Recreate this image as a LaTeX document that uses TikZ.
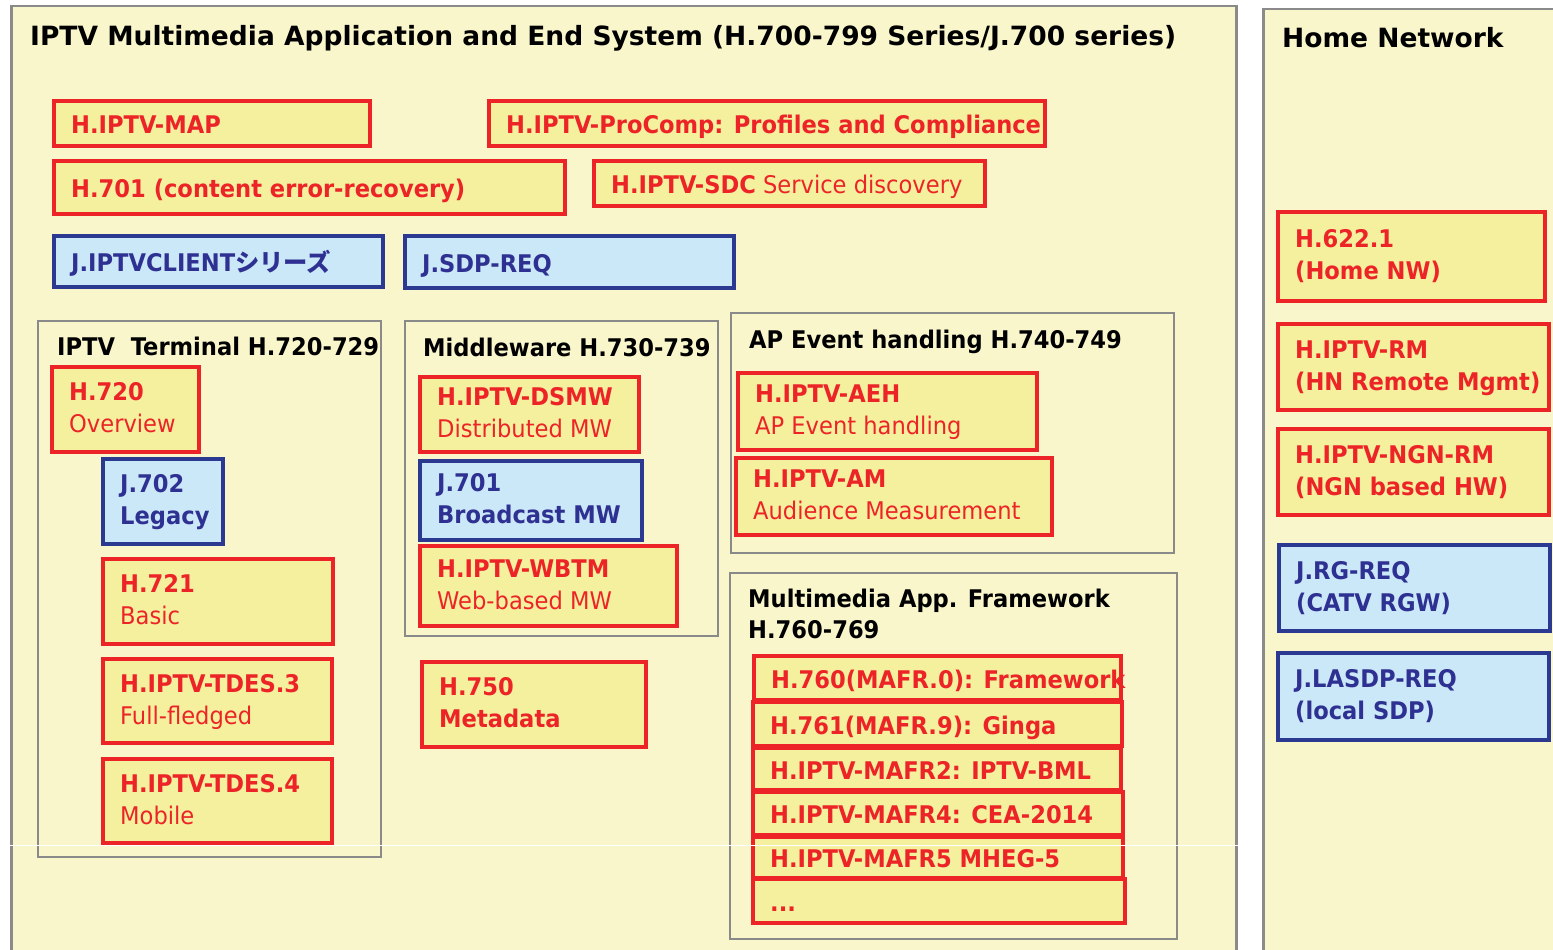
\documentclass[tikz,border=0pt]{standalone}
\usepackage{fontspec}
\setmainfont{DejaVu Sans}[FakeStretch=0.93]
\newfontfamily\titlefont{DejaVu Sans}
\newfontfamily\cjk{Noto Sans CJK JP}
\definecolor{panelbg}{HTML}{FAF6CC}
\definecolor{panelgray}{HTML}{8A8A8A}
\definecolor{redc}{HTML}{EC2427}
\definecolor{yellowf}{HTML}{F4F09E}
\definecolor{bluec}{HTML}{2B3990}
\definecolor{bluef}{HTML}{CBE8F8}
\definecolor{bluet}{HTML}{2E3192}
\tikzset{
  panel/.style={draw=panelgray, line width=2.5pt, fill=panelbg},
  grp/.style={draw=panelgray, line width=2pt},
  rbox/.style={draw=redc, line width=3.5pt, fill=yellowf},
  bbox/.style={draw=bluec, line width=3.5pt, fill=bluef},
  rboxtxt/.style={text=redc, inner sep=0pt},
  bboxtxt/.style={text=bluet, inner sep=0pt},
  ttl/.style={font=\titlefont\fontsize{26.5}{32}\selectfont\bfseries, anchor=base west, inner sep=0pt},
  gttl/.style={font=\fontsize{24.3}{31}\selectfont\bfseries, anchor=base west, inner sep=0pt},
  every node/.append style={font=\fontsize{24.3}{32}\selectfont}
}
\newcommand\lines[1]{\begin{tabular}[t]{@{}l@{}}#1\end{tabular}}
% style, x1, y1, x2, y2, name, text, number of lines
\newcommand\bx[8]{%
  \node[#1, anchor=north west, minimum width={#4-#2}, minimum height={#5-#3}, inner sep=0pt] (#6) at (#2,#3) {};
  \pgfmathsetmacro\bl{#3+((#5-#3)-18-32*(#8-1))/2+18+3*(2-#8)}%
  \node[#1txt, anchor=base west] (#6-t) at (#2+19,\bl) {\lines{#7}};}
\begin{document}
\begin{tikzpicture}[x=1pt,y=-1pt]
\useasboundingbox (0,0) rectangle (1553,950);
\fill[white] (0,0) rectangle (1553,950);
% panels
\node[panel, anchor=north west, minimum width=1225, minimum height=980, inner sep=0pt] (left) at (10,5) {};
\node[panel, anchor=north west, minimum width=320, minimum height=980, inner sep=0pt] (right) at (1262,8) {};
\node[ttl] (lt) at (30,46) {IPTV Multimedia Application and End System (H.700-799 Series/J.700 series)};
\node[ttl] (rt) at (1282,48) {Home Network};
% top boxes
\bx{rbox}{52}{99}{368}{144}{map}{\textbf{H.IPTV-MAP}}{1}
\bx{rbox}{487}{99}{1043}{144}{procomp}{\textbf{H.IPTV-ProComp: Profiles and Compliance}}{1}
\bx{rbox}{52}{159}{563}{212}{h701}{\textbf{H.701 (content error-recovery)}}{1}
\bx{rbox}{592}{159}{983}{204}{sdc}{\textbf{H.IPTV-SDC} Service discovery}{1}
\bx{bbox}{52}{234}{381}{285}{client}{\textbf{J.IPTVCLIENT{\cjk\bfseries シリーズ}}}{1}
\bx{bbox}{403}{234}{732}{286}{sdpreq}{\textbf{J.SDP-REQ}}{1}
% groups
\node[grp, anchor=north west, minimum width=343, minimum height=536, inner sep=0pt] (term) at (37,320) {};
\node[gttl] (term-t) at (57,355) {IPTV\ \ Terminal H.720-729};
\node[grp, anchor=north west, minimum width=313, minimum height=315, inner sep=0pt] (mw) at (404,320) {};
\node[gttl] (mw-t) at (423,356) {Middleware H.730-739};
\node[grp, anchor=north west, minimum width=443, minimum height=240, inner sep=0pt] (ap) at (730,312) {};
\node[gttl] (ap-t) at (749,348) {AP Event handling H.740-749};
\node[grp, anchor=north west, minimum width=447, minimum height=366, inner sep=0pt] (maf) at (729,572) {};
\node[gttl] (maf-t) at (748,607) {\lines{Multimedia App. Framework\\H.760-769}};
% terminal
\bx{rbox}{50}{365}{197}{450}{h720}{\textbf{H.720}\\Overview}{2}
\bx{bbox}{101}{457}{221}{542}{j702}{\textbf{J.702}\\\textbf{Legacy}}{2}
\bx{rbox}{101}{557}{331}{642}{h721}{\textbf{H.721}\\Basic}{2}
\bx{rbox}{101}{657}{330}{741}{tdes3}{\textbf{H.IPTV-TDES.3}\\Full-fledged}{2}
\bx{rbox}{101}{757}{330}{841}{tdes4}{\textbf{H.IPTV-TDES.4}\\Mobile}{2}
% middleware
\bx{rbox}{418}{375}{637}{450}{dsmw}{\textbf{H.IPTV-DSMW}\\Distributed MW}{2}
\bx{bbox}{418}{459}{640}{538}{j701}{\textbf{J.701}\\\textbf{Broadcast MW}}{2}
\bx{rbox}{418}{544}{675}{624}{wbtm}{\textbf{H.IPTV-WBTM}\\Web-based MW}{2}
\bx{rbox}{420}{660}{644}{745}{h750}{\textbf{H.750}\\\textbf{Metadata}}{2}
% AP event
\bx{rbox}{736}{371}{1035}{448}{aeh}{\textbf{H.IPTV-AEH}\\AP Event handling}{2}
\bx{rbox}{734}{456}{1050}{533}{am}{\textbf{H.IPTV-AM}\\Audience Measurement}{2}
% MAF
\bx{rbox}{752}{654}{1119}{698}{m0}{\textbf{H.760(MAFR.0): Framework}}{1}
\bx{rbox}{751}{700}{1120}{744}{m9}{\textbf{H.761(MAFR.9): Ginga}}{1}
\bx{rbox}{751}{746}{1119}{788}{m2}{\textbf{H.IPTV-MAFR2: IPTV-BML}}{1}
\bx{rbox}{751}{790}{1121}{833}{m4}{\textbf{H.IPTV-MAFR4: CEA-2014}}{1}
\bx{rbox}{751}{835}{1121}{876}{m5}{\textbf{H.IPTV-MAFR5 MHEG-5}}{1}
\bx{rbox}{751}{877}{1123}{921}{mdots}{\textbf{...}}{1}
% home network
\bx{rbox}{1276}{210}{1543}{299}{h622}{\textbf{H.622.1}\\\textbf{(Home NW)}}{2}
\bx{rbox}{1276}{322}{1547}{408}{rm}{\textbf{H.IPTV-RM}\\\textbf{(HN Remote Mgmt)}}{2}
\bx{rbox}{1276}{427}{1547}{513}{ngnrm}{\textbf{H.IPTV-NGN-RM}\\\textbf{(NGN based HW)}}{2}
\bx{bbox}{1277}{543}{1548}{629}{rgreq}{\textbf{J.RG-REQ}\\\textbf{(CATV RGW)}}{2}
\bx{bbox}{1276}{651}{1547}{738}{lasdp}{\textbf{J.LASDP-REQ}\\\textbf{(local SDP)}}{2}
% faint white line
\draw[white, line width=0.8pt] (left.west |- 0,845) -- (left.east |- 0,845);
\end{tikzpicture}
\end{document}
